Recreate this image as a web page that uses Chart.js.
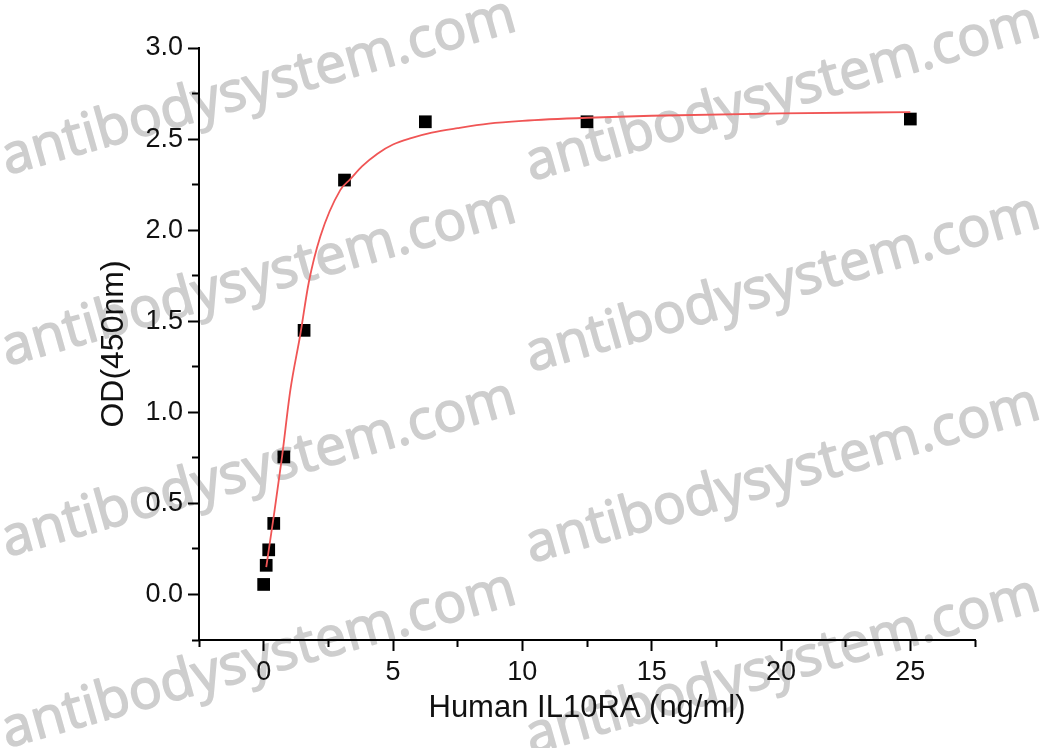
<!DOCTYPE html>
<html>
<head>
<meta charset="utf-8">
<script src="https://cdn.jsdelivr.net/npm/chart.js@4/dist/chart.umd.min.js"></script>
<style>
  html, body { margin: 0; padding: 0; background: #fff; }
  canvas { display: block; }
</style>
</head>
<body>
<canvas id="chart" width="1045" height="748"></canvas>
<script>
// measured standards: concentration (ng/ml) and OD at 450 nm
const conc = [0, 0.098, 0.195, 0.39, 0.78, 1.5625, 3.125, 6.25, 12.5, 25];
const od = [0.055, 0.16, 0.245, 0.39, 0.755, 1.45, 2.275, 2.595, 2.595, 2.61];

// fitted curve, points
const fitX = [0.1, 0.39, 0.71, 1.03, 1.42, 1.74, 2.19, 2.96, 3.35, 3.8, 4.4, 5.0, 5.7, 6.5, 7.5, 8.7, 10, 12.5, 15, 20, 25];
const fitY = [0.15, 0.43, 0.756, 1.12, 1.43, 1.71, 1.965, 2.22, 2.28, 2.35, 2.42, 2.47, 2.505, 2.535, 2.56, 2.585, 2.60, 2.617, 2.628, 2.641, 2.648];

// axis ticks
const xTicks = [0, 5, 10, 15, 20, 25];
const xMinorTicks = [-2.5, 2.5, 7.5, 12.5, 17.5, 22.5, 27.5];
const yTicks = [0, 0.5, 1.0, 1.5, 2.0, 2.5, 3.0];
const yMinorTicks = [-0.25, 0.25, 0.75, 1.25, 1.75, 2.25, 2.75];

const watermark = 'antibodysystem.com';
const FONT = "'Liberation Sans', Arial, sans-serif";

// white page plus the grey tilted watermark behind the chart
const watermarkPlugin = {
    id: 'watermark',
    beforeDraw(chart) {
        const ctx = chart.ctx;
        ctx.save();
        ctx.fillStyle = '#fff';
        ctx.fillRect(0, 0, chart.width, chart.height);
        ctx.font = "58px 'Open Sans'";
        const size = 58 * 532 / ctx.measureText(watermark).width;
        ctx.font = size + "px 'Open Sans'";
        ctx.fillStyle = 'rgb(206,206,206)';
        ctx.strokeStyle = 'rgb(206,206,206)';
        ctx.lineWidth = 1.6;
        ctx.lineJoin = 'round';
        const spots = [[7, 175], [531, 181], [7, 366], [531, 372], [7, 557], [531, 563], [7, 748], [531, 754]];
        spots.forEach(([x, y]) => {
            ctx.save();
            ctx.translate(x, y);
            ctx.rotate(-15.8 * Math.PI / 180);
            ctx.fillText(watermark, 0, 0);
            ctx.strokeText(watermark, 0, 0);
            ctx.restore();
        });
        ctx.restore();
    }
};

function setTicks(list) {
    return scale => { scale.ticks = list.map(v => ({ value: v })); };
}

const chart = new Chart(document.getElementById('chart'), {
    type: 'scatter',
    data: {
        datasets: [
            {
                label: 'fit',
                type: 'line',
                data: fitX.map((x, i) => ({ x: x, y: fitY[i] })),
                borderColor: '#f05555',
                borderWidth: 1.8,
                pointRadius: 0,
                fill: false,
                showLine: true,
                cubicInterpolationMode: 'monotone',
                order: 0
            },
            {
                label: 'OD',
                data: conc.map((x, i) => ({ x: x, y: od[i] })),
                pointStyle: 'rect',
                pointRadius: 9,
                backgroundColor: '#000',
                borderWidth: 0,
                order: 1
            }
        ]
    },
    options: {
        responsive: false,
        animation: false,
        layout: { padding: { top: 48, right: 70, left: 0, bottom: 0 } },
        plugins: { legend: { display: false }, tooltip: { enabled: false } },
        scales: {
            x: {
                type: 'linear', position: 'bottom', weight: 1,
                min: -2.5, max: 27.5,
                afterBuildTicks: setTicks(xTicks),
                afterFit: s => { s.height = 108; },
                grid: { drawOnChartArea: false, tickLength: 11, tickWidth: 2, tickColor: '#000' },
                border: { display: true, color: '#000', width: 2 },
                ticks: { autoSkip: false, maxRotation: 0, color: '#111', padding: 5,
                         font: { family: FONT, size: 27 } },
                title: { display: true, text: 'Human IL10RA (ng/ml)', color: '#111',
                         font: { family: FONT, size: 31 }, padding: { top: 0, bottom: 21 } }
            },
            xMinor: {
                type: 'linear', position: 'bottom', weight: 0,
                min: -2.5, max: 27.5,
                afterBuildTicks: setTicks(xMinorTicks),
                afterFit: s => { s.height = 0; },
                grid: { drawOnChartArea: false, tickLength: 7, tickWidth: 2, tickColor: '#000' },
                border: { display: false },
                ticks: { display: false, autoSkip: false }
            },
            y: {
                type: 'linear', position: 'left', weight: 1,
                min: -0.25, max: 3.0,
                afterBuildTicks: setTicks(yTicks),
                afterFit: s => { s.width = 199; },
                grid: { drawOnChartArea: false, tickLength: 11, tickWidth: 2, tickColor: '#000' },
                border: { display: true, color: '#000', width: 2 },
                ticks: { autoSkip: false, color: '#111', padding: 5,
                         font: { family: FONT, size: 27 },
                         callback: v => v.toFixed(1) },
                title: { display: true, text: 'OD(450nm)', color: '#111',
                         font: { family: FONT, size: 32 }, padding: { top: 95, bottom: 0 } }
            },
            yMinor: {
                type: 'linear', position: 'left', weight: 0,
                min: -0.25, max: 3.0,
                afterBuildTicks: setTicks(yMinorTicks),
                afterFit: s => { s.width = 0; },
                grid: { drawOnChartArea: false, tickLength: 7, tickWidth: 2, tickColor: '#000' },
                border: { display: false },
                ticks: { display: false, autoSkip: false }
            }
        }
    },
    plugins: [watermarkPlugin]
});
</script>
</body>
</html>
